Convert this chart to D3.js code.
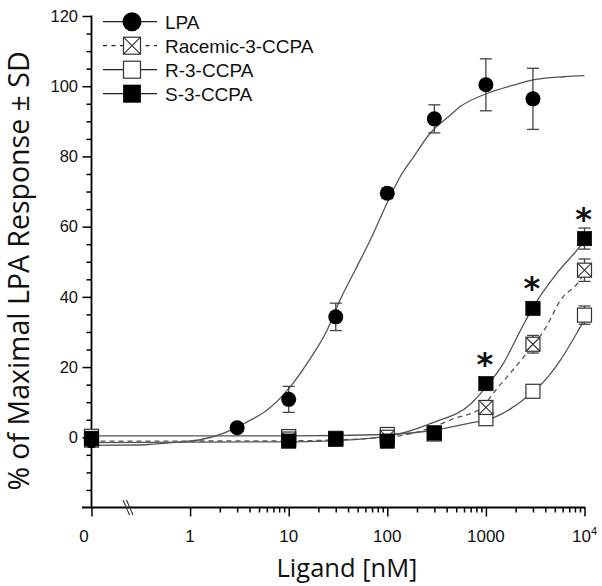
<!DOCTYPE html>
<html>
<head>
<meta charset="utf-8">
<script src="https://cdn.jsdelivr.net/npm/d3@7"></script>
<style>
  html, body { margin: 0; padding: 0; background: #fff; }
  svg { display: block; }
</style>
</head>
<body>
<svg id="chart" width="602" height="586"></svg>
<script>
// ---------------- DATA ----------------
// concentration in nM; "0" is drawn at the 0.1 position of the broken log axis
const concentrations = [0.1, 3, 10, 30, 100, 300, 1000, 3000];
const lpaValues = [-1, 2.7, 10.8, 34.3, 69.5, 90.7, 100.4, 96.4];
const lpaSD = [0, 0, 3.7, 3.9, 1.5, 4, 7.4, 8.7];

const ccpaConc = [0.1, 10, 30, 100, 300, 1000, 3000, 10000];
const racemicValues = [-0.8, -0.5, -0.5, 0, 1, 8.5, 26.5, 47.6];
const racemicSD = [0, 0, 0, 0, 0, 1.2, 2.5, 3.2];
const rValues = [0.3, 0.2, -0.3, 0.8, 1, 5.3, 13.1, 34.8];
const rSD = [0, 0, 0, 0, 0, 0, 1, 2.6];
const sValues = [-0.3, -1.1, -0.5, -1.1, 1.3, 15.3, 36.7, 56.6];
const sSD = [0, 0, 0, 0, 0, 1, 1, 3];
const significant = [1000, 3000, 10000];

// fitted curves: [conc, value]
const lpaCurve = [[0.1,-2.3],[0.3,-2.2],[0.8,-1.3],[1.26,-0.7],[2.2,1.2],[3.8,4.4],[6,7.7],[10.3,14.3],[15.3,21],[24.5,30.5],[33,39],[47,47.5],[72,58],[99,66.6],[135,74.2],[185,79.9],[272,86.6],[437,91.8],[550,94.2],[1040,98],[1900,100.3],[3000,101.8],[6200,102.7],[10000,103]];
const sCurve = [[0.1,-1.5],[10,-1.3],[50,-0.6],[115,0.6],[290,4.2],[700,9.5],[1000,14.3],[1500,21],[2200,30],[3000,37],[5000,46],[9100,54.5],[10000,56]];
const racemicCurve = [[0.1,-1.1],[10,-1.0],[100,0],[290,2.9],[470,5.3],[880,8.2],[1300,13.9],[2600,24],[4000,31],[5700,39],[9100,45],[10000,47]];
const rCurve = [[0.1,0.4],[10,0.4],[100,0.8],[300,2],[650,3.9],[1200,5.6],[2600,11.5],[4200,17],[5700,22],[9100,31.5],[10000,33.5]];

const xMajorTicks = [0.1, 1, 10, 100, 1000, 10000];
const xMajorLabels = ["0", "1", "10", "100", "1000", "10"];
const yMajorTicks = [0, 20, 40, 60, 80, 100, 120];
const legendLabels = ["LPA", "Racemic-3-CCPA", "R-3-CCPA", "S-3-CCPA"];

// ---------------- CHART ----------------
const svg = d3.select("#chart");
const x = d3.scaleLog().domain([0.1, 10000]).range([91.5, 584.5]);
const y = d3.scaleLinear().domain([-20, 120]).range([507.5, 16]);

const lineColor = "#555";
const tickFont = "'Liberation Sans', Arial, sans-serif";
const titleFont = "'Open Sans', 'Liberation Sans', sans-serif";

// Axes
const xMinor = [];
[1, 10, 100, 1000].forEach(d => { for (let k = 2; k <= 9; k++) xMinor.push(d * k); });
const yMinor = d3.range(-15, 121, 5).filter(v => v % 20 !== 0);

const xAxisG = svg.append("g").attr("transform", `translate(0,${y(-20)})`);
xAxisG.call(d3.axisBottom(x).tickValues(xMinor).tickSize(5).tickFormat(""));
xAxisG.append("g").call(d3.axisBottom(x).tickValues(xMajorTicks).tickSize(9).tickFormat(""));
xAxisG.selectAll("path.domain").remove();
xAxisG.selectAll("line").attr("stroke", "#000").attr("stroke-width", 1.5);
svg.append("line").attr("x1", 82).attr("x2", x(10000) + 0.75)
  .attr("y1", y(-20)).attr("y2", y(-20)).attr("stroke", "#000").attr("stroke-width", 1.8);

const yAxisG = svg.append("g").attr("transform", `translate(${x(0.1)},0)`);
yAxisG.call(d3.axisLeft(y).tickValues(yMinor).tickSize(5).tickFormat(""));
yAxisG.append("g").call(d3.axisLeft(y).tickValues(yMajorTicks).tickSize(9).tickFormat(""));
yAxisG.selectAll("path.domain").remove();
yAxisG.selectAll("line").attr("stroke", "#000").attr("stroke-width", 1.5);
svg.append("line").attr("x1", x(0.1)).attr("x2", x(0.1))
  .attr("y1", y(120) - 0.5).attr("y2", y(-20)).attr("stroke", "#000").attr("stroke-width", 1.8);

// y tick labels
svg.append("g").selectAll("text").data(yMajorTicks).join("text")
  .attr("x", 78).attr("y", d => y(d)).attr("dy", "0.35em")
  .attr("text-anchor", "end").attr("font-family", tickFont).attr("font-size", 16.5)
  .attr("fill", "#111").text(d => d);

// x tick labels
const xl = svg.append("g").selectAll("text").data(xMajorTicks).join("text")
  .attr("x", (d, i) => i === 0 ? 84 : x(d)).attr("y", 542)
  .attr("text-anchor", "middle").attr("font-family", tickFont).attr("font-size", 17)
  .attr("fill", "#111").text((d, i) => xMajorLabels[i]);
xl.filter((d, i) => i === xMajorTicks.length - 1)
  .append("tspan").attr("dy", -7).attr("font-size", 11).text("4");

// axis break marks
[0, 3.5].forEach(o => {
  svg.append("line").attr("x1", 123 + o).attr("y1", 500).attr("x2", 129.5 + o).attr("y2", 515)
    .attr("stroke", "#333").attr("stroke-width", 1.1);
});

// axis titles
svg.append("text").attr("x", 347).attr("y", 577).attr("text-anchor", "middle")
  .attr("font-family", titleFont).attr("font-size", 25.5).attr("fill", "#111").text("Ligand [nM]");
svg.append("text").attr("transform", "translate(29,271) rotate(-90)").attr("text-anchor", "middle")
  .attr("font-family", titleFont).attr("font-size", 28.5).attr("fill", "#111")
  .text("% of Maximal LPA Response ± SD");

// curves
const line = d3.line().x(d => x(d[0])).y(d => y(d[1])).curve(d3.curveMonotoneX);
const curves = [
  { data: rCurve, dash: null },
  { data: racemicCurve, dash: "5,4" },
  { data: sCurve, dash: null },
  { data: lpaCurve, dash: null }
];
svg.append("g").selectAll("path").data(curves).join("path")
  .attr("d", d => line(d.data)).attr("fill", "none").attr("stroke", lineColor)
  .attr("stroke-width", 1.3).attr("stroke-dasharray", d => d.dash);

// error bars
function errorBars(conc, vals, sds) {
  const g = svg.append("g").attr("stroke", "#444").attr("stroke-width", 1.3);
  conc.forEach((c, i) => {
    if (!sds[i]) return;
    const cx = x(c), y1 = y(vals[i] + sds[i]), y2 = y(vals[i] - sds[i]);
    g.append("line").attr("x1", cx).attr("x2", cx).attr("y1", y1).attr("y2", y2);
    g.append("line").attr("x1", cx - 6).attr("x2", cx + 6).attr("y1", y1).attr("y2", y1);
    g.append("line").attr("x1", cx - 6).attr("x2", cx + 6).attr("y1", y2).attr("y2", y2);
  });
}
errorBars(ccpaConc, rValues, rSD);
errorBars(ccpaConc, racemicValues, racemicSD);
errorBars(concentrations, lpaValues, lpaSD);
errorBars(ccpaConc, sValues, sSD);

// marker drawing helpers
function openSquare(g, cx, cy, s) {
  g.append("rect").attr("x", cx - s / 2).attr("y", cy - s / 2).attr("width", s).attr("height", s)
    .attr("fill", "#fff").attr("stroke", "#333").attr("stroke-width", 1.2);
}
function crossSquare(g, cx, cy, s) {
  openSquare(g, cx, cy, s);
  const h = s / 2;
  g.append("path").attr("d", `M${cx - h},${cy - h}L${cx + h},${cy + h}M${cx + h},${cy - h}L${cx - h},${cy + h}`)
    .attr("stroke", "#333").attr("stroke-width", 1.1).attr("fill", "none");
}
function filledSquare(g, cx, cy, s) {
  g.append("rect").attr("x", cx - s / 2).attr("y", cy - s / 2).attr("width", s).attr("height", s)
    .attr("fill", "#000").attr("stroke", "#000").attr("stroke-width", 0.5);
}
function circle(g, cx, cy, r) {
  g.append("circle").attr("cx", cx).attr("cy", cy).attr("r", r).attr("fill", "#000");
}

const pts = svg.append("g");
ccpaConc.forEach((c, i) => openSquare(pts, x(c), y(rValues[i]), 14));
ccpaConc.forEach((c, i) => crossSquare(pts, x(c), y(racemicValues[i]), 14));
concentrations.forEach((c, i) => circle(pts, x(c), y(lpaValues[i]), 7.5));
ccpaConc.forEach((c, i) => filledSquare(pts, x(c), y(sValues[i]), 14.5));

// significance asterisks
svg.append("g").selectAll("text").data(significant).join("text")
  .attr("x", d => x(d) - 1).attr("y", d => y(sValues[ccpaConc.indexOf(d)]) - 9)
  .attr("text-anchor", "middle")
  .attr("font-family", "'DejaVu Sans', sans-serif").attr("font-weight", "bold")
  .attr("font-size", 32).attr("fill", "#111")
  .text("*");

// legend
const lg = svg.append("g");
legendLabels.forEach((lab, i) => {
  const cy = 21.7 + i * 24;
  lg.append("line").attr("x1", 103).attr("x2", 157).attr("y1", cy).attr("y2", cy)
    .attr("stroke", "#222").attr("stroke-width", 1.3)
    .attr("stroke-dasharray", i === 1 ? "4,4.5" : null);
  if (i === 0) circle(lg, 132, cy, 9.5);
  if (i === 1) crossSquare(lg, 132, cy, 17);
  if (i === 2) openSquare(lg, 132, cy, 17);
  if (i === 3) filledSquare(lg, 132, cy, 17.5);
  lg.append("text").attr("x", 165).attr("y", cy).attr("dy", "0.36em")
    .attr("font-family", tickFont).attr("font-size", 19).attr("fill", "#111").text(lab);
});
</script>
</body>
</html>
